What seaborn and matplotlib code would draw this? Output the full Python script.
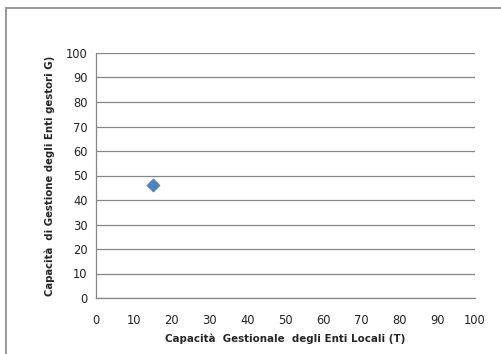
import matplotlib
matplotlib.use('Agg')
import matplotlib.pyplot as plt
import seaborn as sns
import pandas as pd
from matplotlib.lines import Line2D

# dati
enti_locali_T = [15]
enti_gestori_G = [46]
ticks = list(range(0, 101, 10))

df = pd.DataFrame({'T': enti_locali_T, 'G': enti_gestori_G})

sns.set_style('white')
plt.rcParams['font.family'] = ['DejaVu Sans']

fig = plt.figure(figsize=(5.01, 3.54), dpi=100)
ax = fig.add_axes([96 / 501, 1 - 298 / 354, 379 / 501, 245 / 354])

sns.scatterplot(data=df, x='T', y='G', marker='D', s=45, color='#4F81BD',
                edgecolor='#4F81BD', linewidth=0.5, ax=ax, legend=False)

ax.set_xlim(0, 100)
ax.set_ylim(0, 100)
ax.set_xticks(ticks)
ax.set_yticks(ticks)
ax.tick_params(axis='both', direction='out', length=4, width=0.8, color='#868686',
               labelsize=8.3, labelcolor='#222222', pad=3)
ax.tick_params(axis='x', pad=7.5)
ax.tick_params(axis='y', pad=2)
ax.yaxis.grid(True, color='#868686', linewidth=0.9)
ax.xaxis.grid(False)
for side in ['top', 'right']:
    ax.spines[side].set_visible(False)
for side in ['left', 'bottom']:
    ax.spines[side].set_color('#868686')
    ax.spines[side].set_linewidth(0.9)

ax.set_xlabel('Capacità  Gestionale  degli Enti Locali (T)', fontsize=7.4, fontweight='bold',
              labelpad=5)
ax.set_ylabel('Capacità  di Gestione degli Enti gestori G)', fontsize=7.3, fontweight='bold',
              labelpad=8)

# cornice del grafico
fig.add_artist(Line2D([5.5 / 501, 5.5 / 501], [0, 1 - 8 / 354], transform=fig.transFigure,
                      color='#888888', linewidth=1.2))
fig.add_artist(Line2D([5.5 / 501, 1], [1 - 8 / 354, 1 - 8 / 354], transform=fig.transFigure,
                      color='#888888', linewidth=1.2))

fig.savefig('out.png', dpi=100)
